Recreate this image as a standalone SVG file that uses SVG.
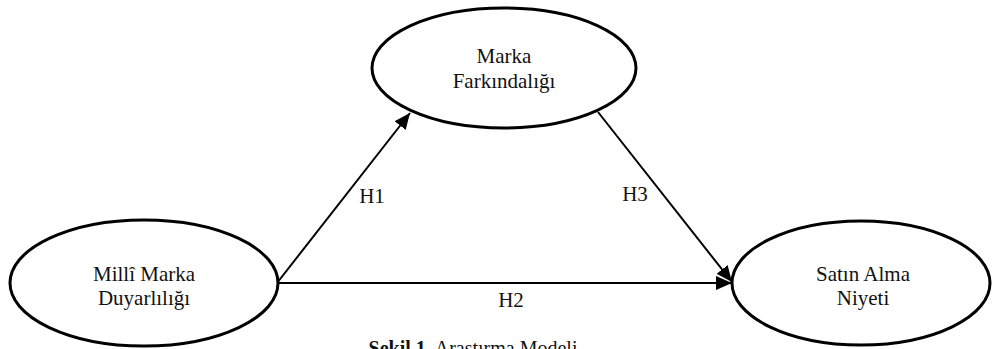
<svg xmlns="http://www.w3.org/2000/svg" width="992" height="349" viewBox="0 0 992 349">
<style>
.node ellipse{fill:#fff;stroke:#000;stroke-width:3}
text{font-family:"Liberation Serif","Times New Roman",serif;font-size:21px;fill:#111;text-anchor:middle}
.edge{stroke:#000;stroke-width:2;fill:none;marker-end:url(#ah)}
.cap{font-size:20px}
</style>
<defs>
<marker id="ah" markerUnits="userSpaceOnUse" markerWidth="16" markerHeight="14" viewBox="0 0 16 14" refX="16" refY="7" orient="auto">
<path d="M0,0 L16,7 L0,14 Z" fill="#000"/>
</marker>
</defs>
<g id="connectors">
<line class="edge" x1="277" y1="283" x2="410" y2="113"/>
<line class="edge" x1="598" y1="112" x2="732" y2="282"/>
<line class="edge" x1="277" y1="283" x2="732" y2="283"/>
<text x="372" y="203">H1</text>
<text x="635" y="201">H3</text>
<text x="511" y="307">H2</text>
</g>
<g id="marka" class="node">
<ellipse cx="504" cy="68" rx="132" ry="60"/>
<text x="504" y="63">Marka</text>
<text x="504" y="88">Farkındalığı</text>
</g>
<g id="milli" class="node">
<ellipse cx="144" cy="283" rx="134" ry="63"/>
<text x="144" y="281">Millî Marka</text>
<text x="144" y="305">Duyarlılığı</text>
</g>
<g id="satin" class="node">
<ellipse cx="861" cy="283" rx="129" ry="62"/>
<text x="863" y="281">Satın Alma</text>
<text x="863" y="305">Niyeti</text>
</g>
<text class="cap" x="473" y="355"><tspan font-weight="bold">Şekil 1.</tspan> Araştırma Modeli</text>
</svg>
